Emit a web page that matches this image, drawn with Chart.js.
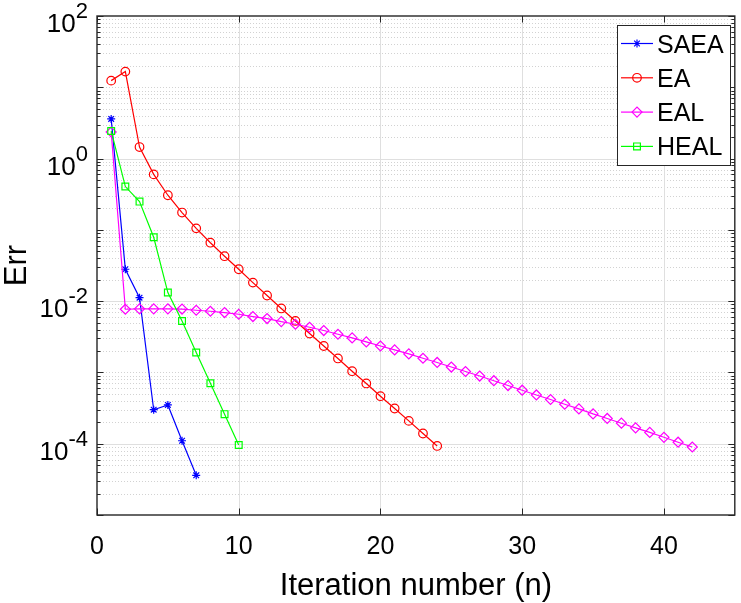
<!DOCTYPE html>
<html>
<head>
<meta charset="utf-8">
<script src="https://cdn.jsdelivr.net/npm/chart.js@4.4.1/dist/chart.umd.min.js"></script>
<style>
  html, body { margin: 0; padding: 0; background: #fff; }
  #wrap { width: 741px; height: 603px; }
</style>
</head>
<body>
<div id="wrap"><canvas id="errChart" width="741" height="603"></canvas></div>
<script>
// ==========================
// DATA (Err per iteration, iteration n = index + 1)
// ==========================
const saeaErr = [3.6, 0.028, 0.0112, 3.0e-4, 3.5e-4, 1.1e-4, 3.6e-5];

const eaErr = [12.4, 16.6, 1.45, 0.60, 0.306, 0.175, 0.105, 0.066, 0.0427, 0.028,
  0.0182, 0.012, 0.0079, 0.00527, 0.00351, 0.00235, 0.00157, 0.00104, 7.0e-4, 4.64e-4,
  3.12e-4, 2.09e-4, 1.39e-4, 9.3e-5];

const ealErr = [2.36, 0.0077, 0.0078, 0.0078, 0.0078, 0.00775, 0.00745, 0.00722, 0.00692, 0.00655,
  0.00608, 0.0057, 0.00517, 0.00474, 0.0043, 0.00387, 0.00343, 0.00305, 0.00268, 0.00235,
  0.00207, 0.00182, 0.00158, 0.00138, 0.00119, 0.00103, 8.9e-4, 7.65e-4, 6.55e-4, 5.63e-4,
  4.83e-4, 4.17e-4, 3.58e-4, 3.08e-4, 2.62e-4, 2.26e-4, 1.94e-4, 1.67e-4, 1.44e-4, 1.23e-4,
  1.05e-4, 9.0e-5];

const healErr = [2.44, 0.405, 0.249, 0.0787, 0.0132, 0.00527, 0.0019, 7.05e-4, 2.6e-4, 9.6e-5];

const seriesNames = ["SAEA", "EA", "EAL", "HEAL"];

// axes
const xTicks = [0, 10, 20, 30, 40];
const xMin = 0, xMax = 45;
const yTickExps = [-4, -2, 0, 2];
const yMinExp = -5, yMaxExp = 2;

const xTitle = "Iteration number (n)";
const yTitle = "Err";

// ==========================
// STYLE
// ==========================
const FONT = "'Liberation Sans', Arial, Helvetica, sans-serif";
const AXIS_COLOR = "#262626";

function toPoints(arr) {
  return arr.map((v, i) => ({ x: i + 1, y: v }));
}

function lineSet(label, arr, color, style, radius, order) {
  return {
    label,
    data: toPoints(arr),
    borderColor: color,
    backgroundColor: "rgba(0,0,0,0)",
    borderWidth: 1.2,
    pointStyle: style,
    pointRadius: radius,
    pointHoverRadius: radius,
    pointBorderColor: color,
    pointBackgroundColor: "rgba(0,0,0,0)",
    pointBorderWidth: 1.2,
    tension: 0,
    order
  };
}

// ==========================
// MATLAB-LIKE AXES PLUGIN
// ==========================
const matlabAxes = {
  id: "matlabAxes",

  beforeDatasetsDraw(chart) {
    const { ctx, chartArea: a, scales: { x, y } } = chart;
    ctx.save();
    ctx.lineWidth = 1;

    // minor dotted grid on y
    ctx.strokeStyle = "#d2d2d2";
    ctx.setLineDash([1, 2]);
    ctx.beginPath();
    for (let e = yMinExp; e < yMaxExp; e++) {
      for (let m = 1; m <= 9; m++) {
        if (m === 1 && (yTickExps.includes(e) || e === yMinExp)) continue;
        const py = Math.round(y.getPixelForValue(m * Math.pow(10, e))) + 0.5;
        ctx.moveTo(a.left, py);
        ctx.lineTo(a.right, py);
      }
    }
    ctx.stroke();

    // major solid grid
    ctx.setLineDash([]);
    ctx.strokeStyle = "#dfdfdf";
    ctx.beginPath();
    yTickExps.forEach(e => {
      const py = Math.round(y.getPixelForValue(Math.pow(10, e))) + 0.5;
      if (py <= a.top + 1 || py >= a.bottom - 1) return;
      ctx.moveTo(a.left, py);
      ctx.lineTo(a.right, py);
    });
    xTicks.forEach(t => {
      const px = Math.round(x.getPixelForValue(t)) + 0.5;
      if (px <= a.left + 1 || px >= a.right - 1) return;
      ctx.moveTo(px, a.top);
      ctx.lineTo(px, a.bottom);
    });
    ctx.stroke();
    ctx.restore();
  },

  afterDraw(chart) {
    const { ctx, chartArea: a, scales: { x, y } } = chart;
    ctx.save();
    ctx.strokeStyle = AXIS_COLOR;
    ctx.fillStyle = "#000";

    // tick marks (inward, both sides)
    ctx.lineWidth = 1;
    ctx.beginPath();
    xTicks.forEach(t => {
      const px = Math.round(x.getPixelForValue(t)) + 0.5;
      ctx.moveTo(px, a.bottom); ctx.lineTo(px, a.bottom - 6.5);
      ctx.moveTo(px, a.top); ctx.lineTo(px, a.top + 6.5);
    });
    for (let e = yMinExp; e <= yMaxExp; e++) {
      for (let m = 1; m <= 9; m++) {
        if (e === yMaxExp && m > 1) break;
        const py = Math.round(y.getPixelForValue(m * Math.pow(10, e))) + 0.5;
        const len = m === 1 ? 6.5 : 3.5;
        ctx.moveTo(a.left, py); ctx.lineTo(a.left + len, py);
        ctx.moveTo(a.right, py); ctx.lineTo(a.right - len, py);
      }
    }
    ctx.stroke();

    // box
    ctx.lineWidth = 1.4;
    ctx.strokeRect(a.left, a.top, a.right - a.left, a.bottom - a.top);

    // x tick labels
    ctx.font = "25px " + FONT;
    ctx.textAlign = "center";
    ctx.textBaseline = "alphabetic";
    xTicks.forEach(t => {
      ctx.fillText(String(t), x.getPixelForValue(t), a.bottom + 39);
    });

    // y tick labels: 10 with superscript exponent
    yTickExps.forEach(e => {
      const py = y.getPixelForValue(Math.pow(10, e));
      const exp = String(e);
      ctx.font = "22px " + FONT;
      const ew = ctx.measureText(exp).width;
      const right = a.left - 9;
      ctx.textAlign = "right";
      ctx.fillText(exp, right, py + 2);
      ctx.font = "26px " + FONT;
      ctx.fillText("10", right - ew, py + 16);
    });

    // axis titles
    ctx.font = "31px " + FONT;
    ctx.textAlign = "center";
    ctx.fillText(xTitle, (a.left + a.right) / 2, a.bottom + 80);
    ctx.save();
    ctx.translate(26, (a.top + a.bottom) / 2);
    ctx.rotate(-Math.PI / 2);
    ctx.fillText(yTitle, 0, 0);
    ctx.restore();

    // legend
    const lx = 617.5, ly = 25.5, lw = 113, lh = 140;
    ctx.fillStyle = "#fff";
    ctx.fillRect(lx, ly, lw, lh);
    ctx.strokeStyle = AXIS_COLOR;
    ctx.lineWidth = 1;
    ctx.strokeRect(lx, ly, lw, lh);
    ctx.font = "25px " + FONT;
    ctx.textAlign = "left";
    chart.data.datasets.forEach((ds, i) => {
      const cy = 43.5 + i * 34.3;
      ctx.strokeStyle = ds.borderColor;
      ctx.lineWidth = ds.borderWidth;
      ctx.beginPath();
      ctx.moveTo(621, cy);
      ctx.lineTo(653, cy);
      ctx.stroke();
      ctx.fillStyle = "rgba(0,0,0,0)";
      Chart.helpers.drawPoint(ctx, {
        pointStyle: ds.pointStyle,
        radius: ds.pointRadius,
        rotation: 0,
        borderWidth: ds.pointBorderWidth
      }, 637, cy);
      ctx.fillStyle = "#000";
      ctx.fillText(ds.label, 657, cy + 9);
    });

    ctx.restore();
  }
};

// ==========================
// CHART
// ==========================
const ctx = document.getElementById("errChart").getContext("2d");

const chart = new Chart(ctx, {
  type: "line",
  data: {
    datasets: [
      lineSet(seriesNames[0], saeaErr, "#0000ff", "star", 4, 3),
      lineSet(seriesNames[1], eaErr, "#ff0000", "circle", 4.3, 2),
      lineSet(seriesNames[2], ealErr, "#ff00ff", "rectRot", 5, 1),
      lineSet(seriesNames[3], healErr, "#00ff00", "rect", 4.8, 0)
    ]
  },
  options: {
    responsive: false,
    animation: false,
    events: [],
    layout: { padding: { left: 97, right: 1, top: 16, bottom: 88 } },
    plugins: {
      legend: { display: false },
      tooltip: { enabled: false }
    },
    scales: {
      x: { type: "linear", min: xMin, max: xMax, display: false },
      y: {
        type: "logarithmic",
        min: Math.pow(10, yMinExp),
        max: Math.pow(10, yMaxExp),
        display: false
      }
    }
  },
  plugins: [matlabAxes]
});
</script>
</body>
</html>
